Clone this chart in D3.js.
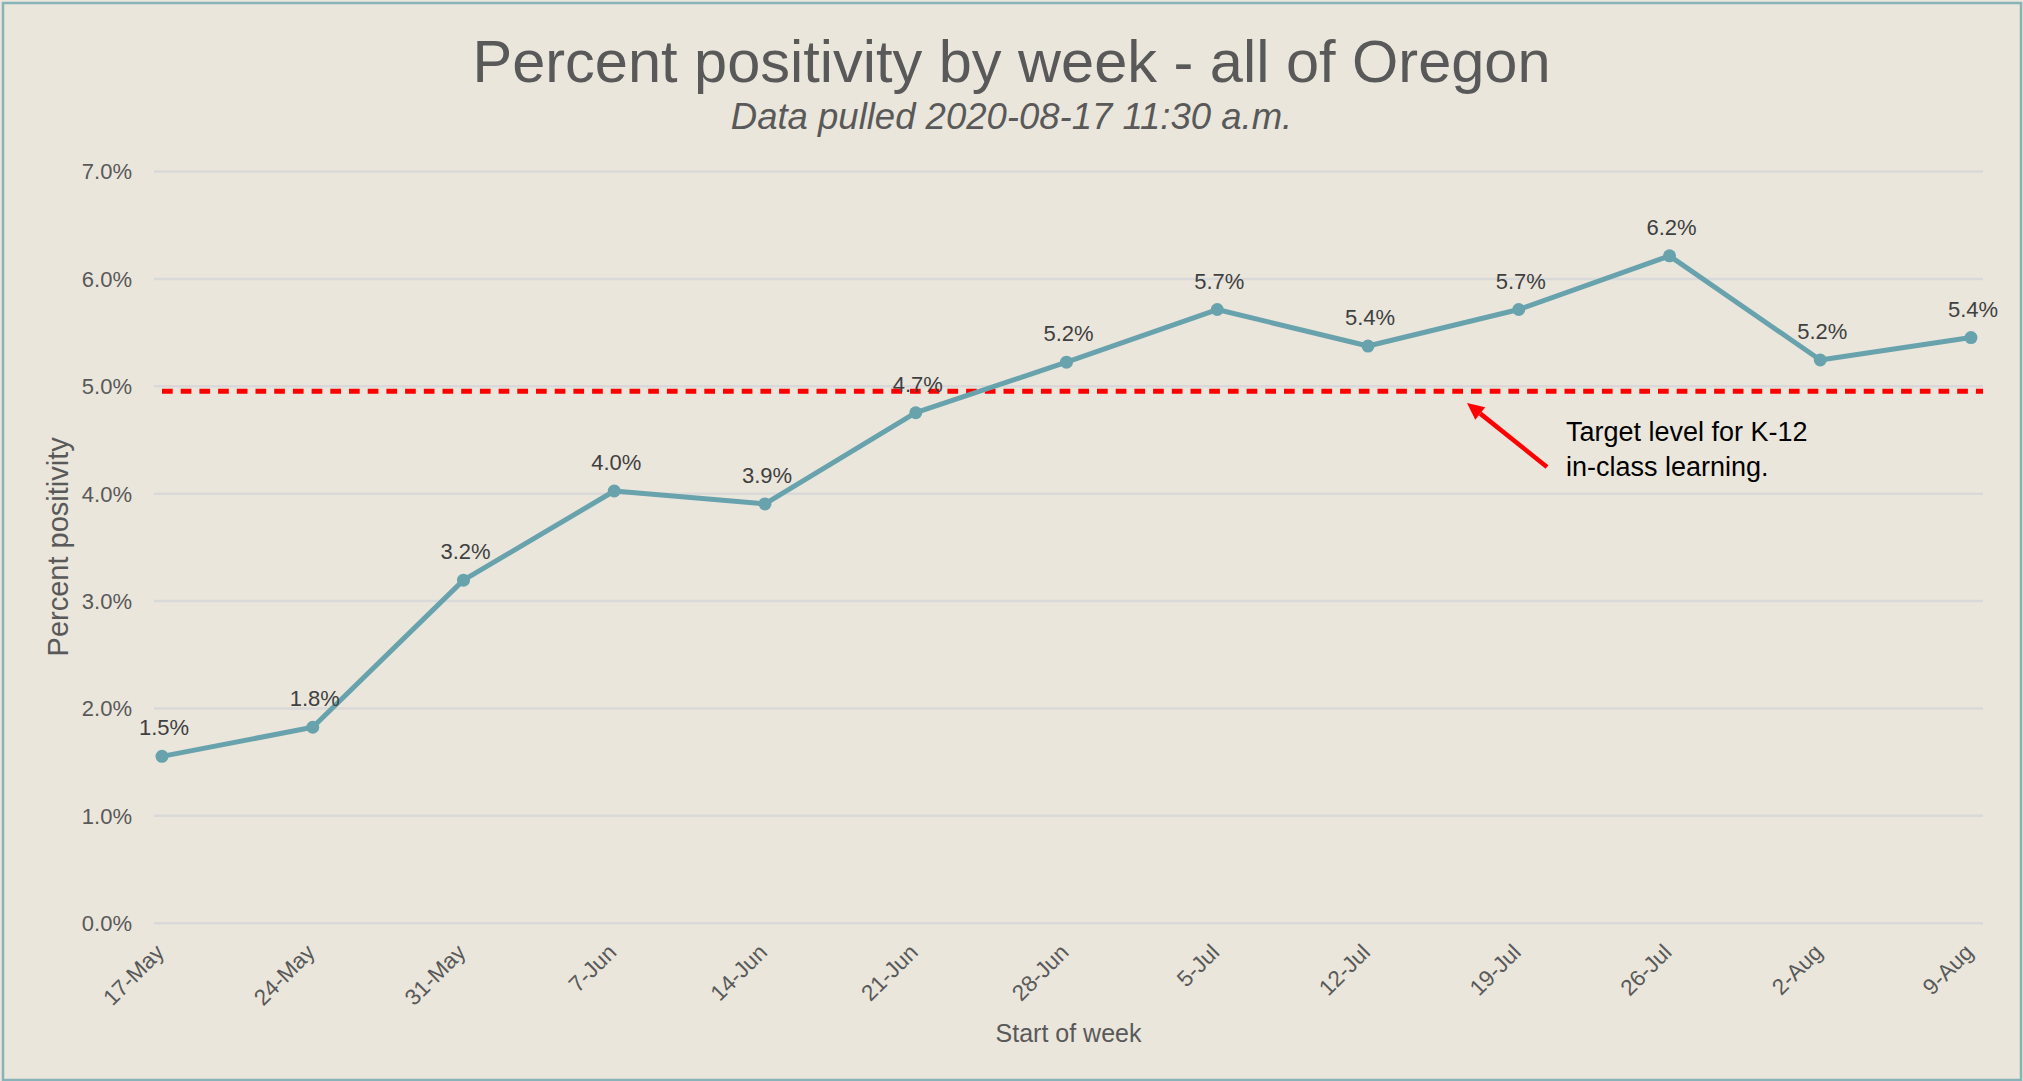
<!DOCTYPE html>
<html>
<head>
<meta charset="utf-8">
<script src="https://cdn.jsdelivr.net/npm/d3@7"></script>
<style>
  html, body { margin: 0; padding: 0; background: #EAE6DC; }
  svg { display: block; font-family: "Liberation Sans", Arial, sans-serif; }
</style>
</head>
<body>
<svg id="chart" width="2023" height="1081"></svg>
<script>
// ---- data ----
const weeks = ["17-May","24-May","31-May","7-Jun","14-Jun","21-Jun","28-Jun","5-Jul","12-Jul","19-Jul","26-Jul","2-Aug","9-Aug"];
const positivity = [1.549, 1.82, 3.19, 4.02, 3.9, 4.749, 5.22, 5.71, 5.37, 5.71, 6.21, 5.24, 5.449];
const yTicks = [0, 1, 2, 3, 4, 5, 6, 7];
const targetLevel = 4.95;
const titleText = "Percent positivity by week - all of Oregon";
const subtitleText = "Data pulled 2020-08-17 11:30 a.m.";
const xAxisTitle = "Start of week";
const yAxisTitle = "Percent positivity";
const annotationLines = ["Target level for K-12", "in-class learning."];

// ---- layout ----
const W = 2023, H = 1081;
const svg = d3.select("#chart");
const gridLeft = 154, gridRight = 1983;

svg.append("rect").attr("x", 0).attr("y", 0).attr("width", W).attr("height", H).attr("fill", "#EAE6DC");
svg.append("rect").attr("x", 3).attr("y", 3).attr("width", W - 5).attr("height", H - 4)
  .attr("fill", "none").attr("stroke", "#88B3B8").attr("stroke-width", 2.5);

const x = d3.scalePoint().domain(weeks).range([162, 1971]);
const y = d3.scaleLinear().domain([0, 7]).range([922.7, 171]);

// gridlines + y tick labels via axis
const yAxis = d3.axisLeft(y).tickValues(yTicks).tickSize(-(gridRight - gridLeft))
  .tickFormat(d => d3.format(".1f")(d) + "%").tickPadding(22);
const gy = svg.append("g").attr("transform", `translate(${gridLeft},0)`).call(yAxis);
gy.select(".domain").remove();
gy.selectAll(".tick line").attr("stroke", "#D9D9D9").attr("stroke-width", 2.5);
gy.selectAll(".tick text").attr("fill", "#595959").attr("font-size", 22)
  .attr("font-family", "'Liberation Sans', Arial, sans-serif").attr("dy", "0.36em");

// x tick labels via axis
const xAxis = d3.axisBottom(x).tickSize(0).tickPadding(0);
const gx = svg.append("g").attr("transform", `translate(0,${y(0)})`).call(xAxis);
gx.select(".domain").remove();
gx.selectAll(".tick text")
  .attr("fill", "#595959").attr("font-size", 22.5)
  .attr("font-family", "'Liberation Sans', Arial, sans-serif")
  .attr("text-anchor", "end")
  .attr("dy", null).attr("y", null)
  .attr("transform", "translate(3,31) rotate(-45)");

// target dashed line
svg.append("line")
  .attr("x1", x(weeks[0])).attr("x2", gridRight)
  .attr("y1", y(targetLevel)).attr("y2", y(targetLevel))
  .attr("stroke", "#FF0000").attr("stroke-width", 5)
  .attr("stroke-dasharray", "10.7 8");

// series line
const line = d3.line().x((d, i) => x(weeks[i])).y(d => y(d));
svg.append("path").datum(positivity)
  .attr("d", line).attr("fill", "none")
  .attr("stroke", "#68A3AD").attr("stroke-width", 5).attr("stroke-linejoin", "round");

svg.append("g").selectAll("circle").data(positivity).join("circle")
  .attr("cx", (d, i) => x(weeks[i])).attr("cy", d => y(d)).attr("r", 6.5)
  .attr("fill", "#68A3AD");

// data labels
svg.append("g").selectAll("text").data(positivity).join("text")
  .attr("x", (d, i) => x(weeks[i]) + 2).attr("y", d => y(d) - 21)
  .attr("text-anchor", "middle").attr("font-size", 22).attr("fill", "#404040")
  .text(d => d3.format(".1f")(d) + "%");

// titles
svg.append("text").attr("x", W / 2).attr("y", 82).attr("text-anchor", "middle")
  .attr("font-size", 59.5).attr("fill", "#595959").text(titleText);
svg.append("text").attr("x", W / 2).attr("y", 129).attr("text-anchor", "middle")
  .attr("font-size", 36.5).attr("font-style", "italic").attr("fill", "#595959").text(subtitleText);

svg.append("text").attr("x", (gridLeft + gridRight) / 2).attr("y", 1042).attr("text-anchor", "middle")
  .attr("font-size", 25).attr("fill", "#595959").text(xAxisTitle);
svg.append("text")
  .attr("transform", `translate(68,${(y(0) + y(7)) / 2}) rotate(-90)`)
  .attr("text-anchor", "middle").attr("font-size", 29).attr("fill", "#595959").text(yAxisTitle);

// annotation arrow
const tip = [1467, 403], tail = [1547, 467];
const ang = Math.atan2(tip[1] - tail[1], tip[0] - tail[0]);
const headLen = 17, headW = 8;
const base = [tip[0] - headLen * Math.cos(ang), tip[1] - headLen * Math.sin(ang)];
svg.append("line").attr("x1", tail[0]).attr("y1", tail[1]).attr("x2", base[0]).attr("y2", base[1])
  .attr("stroke", "#FF0000").attr("stroke-width", 4.5);
svg.append("path")
  .attr("d", `M${tip[0]},${tip[1]} L${base[0] - headW * Math.sin(ang)},${base[1] + headW * Math.cos(ang)} L${base[0] + headW * Math.sin(ang)},${base[1] - headW * Math.cos(ang)} Z`)
  .attr("fill", "#FF0000");

svg.append("g").selectAll("text").data(annotationLines).join("text")
  .attr("x", 1566).attr("y", (d, i) => 441 + i * 35)
  .attr("font-size", 27).attr("fill", "#000000").text(d => d);
</script>
</body>
</html>
